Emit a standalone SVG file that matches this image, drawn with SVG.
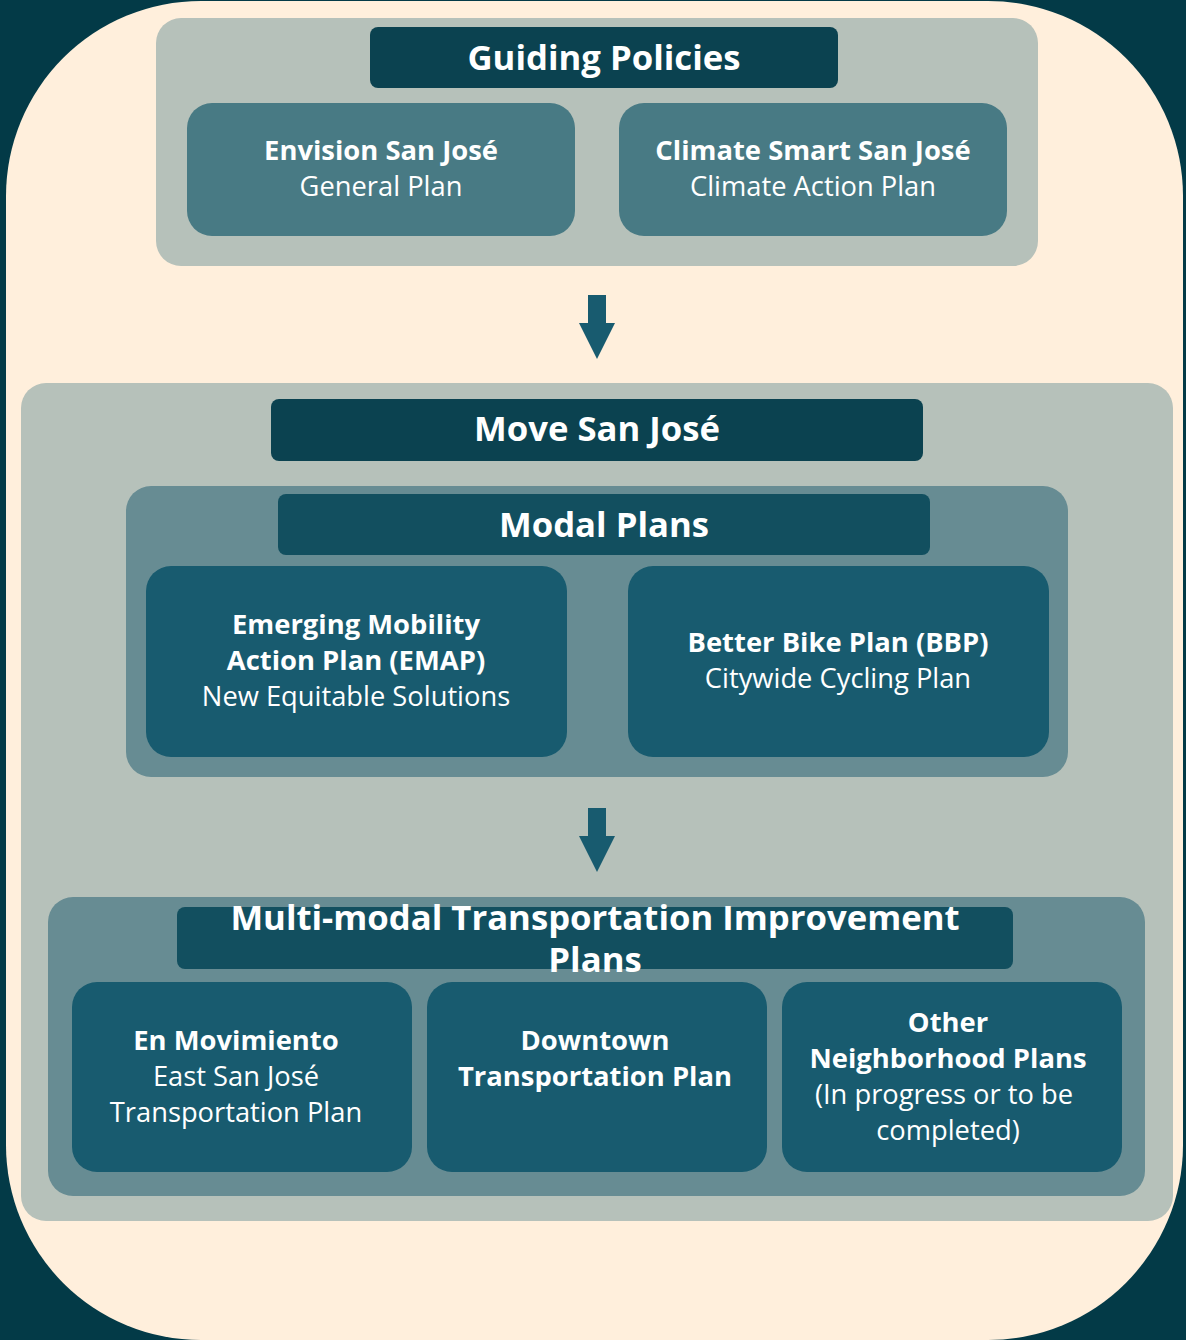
<svg xmlns="http://www.w3.org/2000/svg" width="1186" height="1340" viewBox="0 0 1186 1340">
<style>
.t{font-family:"Open Sans","Noto Sans","Liberation Sans",sans-serif;fill:#ffffff;text-anchor:middle}
.hd{font-size:34.7px;font-weight:700}
.b{font-size:27.4px;font-weight:700}
.r{font-size:27.3px;font-weight:400}
.panel{fill:#b6c1ba}
.sub{fill:#678c93}
.hdr{fill:#0b4250}
.hdr2{fill:#124f5f}
.gp{fill:#487a84}
.nd{fill:#185b6f}
</style>
<defs>
<path id="arr" d="M-9,0 H9 V28 H18 L0,64 L-18,28 H-9 Z"/>
</defs>
<rect x="0" y="0" width="1186" height="1340" fill="#033a47"/>
<rect x="6" y="1" width="1177" height="1339" rx="195" ry="195" fill="#ffefdc"/>

<g id="guiding-policies">
<rect class="panel" x="156" y="18" width="882" height="248" rx="25"/>
<rect class="hdr" x="370" y="27" width="468" height="61" rx="8"/>
<text class="t hd" x="604" y="70">Guiding Policies</text>
</g>
<g id="envision">
<rect class="gp" x="187" y="103" width="388" height="133" rx="25"/>
<text class="t b" x="381" y="160">Envision San José</text>
<text class="t r" x="381" y="196">General Plan</text>
</g>
<g id="climate">
<rect class="gp" x="619" y="103" width="388" height="133" rx="25"/>
<text class="t b" x="813" y="160">Climate Smart San José</text>
<text class="t r" x="813" y="196">Climate Action Plan</text>
</g>

<g id="move-san-jose">
<rect class="panel" x="21" y="383" width="1152" height="838" rx="25"/>
<rect class="hdr" x="271" y="399" width="652" height="62" rx="8"/>
<text class="t hd" x="597" y="441">Move San José</text>
</g>

<g id="modal-plans">
<rect class="sub" x="126" y="486" width="942" height="291" rx="25"/>
<rect class="hdr2" x="278" y="494" width="652" height="61" rx="8"/>
<text class="t hd" x="604" y="537">Modal Plans</text>
</g>
<g id="emap">
<rect class="nd" x="146" y="566" width="421" height="191" rx="25"/>
<text class="t b" x="356" y="634">Emerging Mobility</text>
<text class="t b" x="356" y="670">Action Plan (EMAP)</text>
<text class="t r" x="356" y="706">New Equitable Solutions</text>
</g>
<g id="bbp">
<rect class="nd" x="628" y="566" width="421" height="191" rx="25"/>
<text class="t b" x="838" y="652">Better Bike Plan (BBP)</text>
<text class="t r" x="838" y="688">Citywide Cycling Plan</text>
</g>

<g id="multimodal">
<rect class="sub" x="48" y="897" width="1097" height="299" rx="25"/>
<rect class="hdr2" x="177" y="907" width="836" height="62" rx="8"/>
<text class="t hd" x="595" y="930">Multi-modal Transportation Improvement</text>
<text class="t hd" x="595" y="972">Plans</text>
</g>
<g id="en-movimiento">
<rect class="nd" x="72" y="982" width="340" height="190" rx="25"/>
<text class="t b" x="236" y="1050">En Movimiento</text>
<text class="t r" x="236" y="1086">East San José</text>
<text class="t r" x="236" y="1122">Transportation Plan</text>
</g>
<g id="downtown">
<rect class="nd" x="427" y="982" width="340" height="190" rx="25"/>
<text class="t b" x="595" y="1050">Downtown</text>
<text class="t b" x="595" y="1086">Transportation Plan</text>
</g>
<g id="other">
<rect class="nd" x="782" y="982" width="340" height="190" rx="25"/>
<text class="t b" x="948" y="1032">Other</text>
<text class="t b" x="948" y="1068">Neighborhood Plans</text>
<text class="t r" x="944" y="1104">(In progress or to be</text>
<text class="t r" x="948" y="1140">completed)</text>
</g>

<g id="connectors" fill="#185b6f">
<use href="#arr" x="597" y="295"/>
<use href="#arr" x="597" y="808"/>
</g>
</svg>
